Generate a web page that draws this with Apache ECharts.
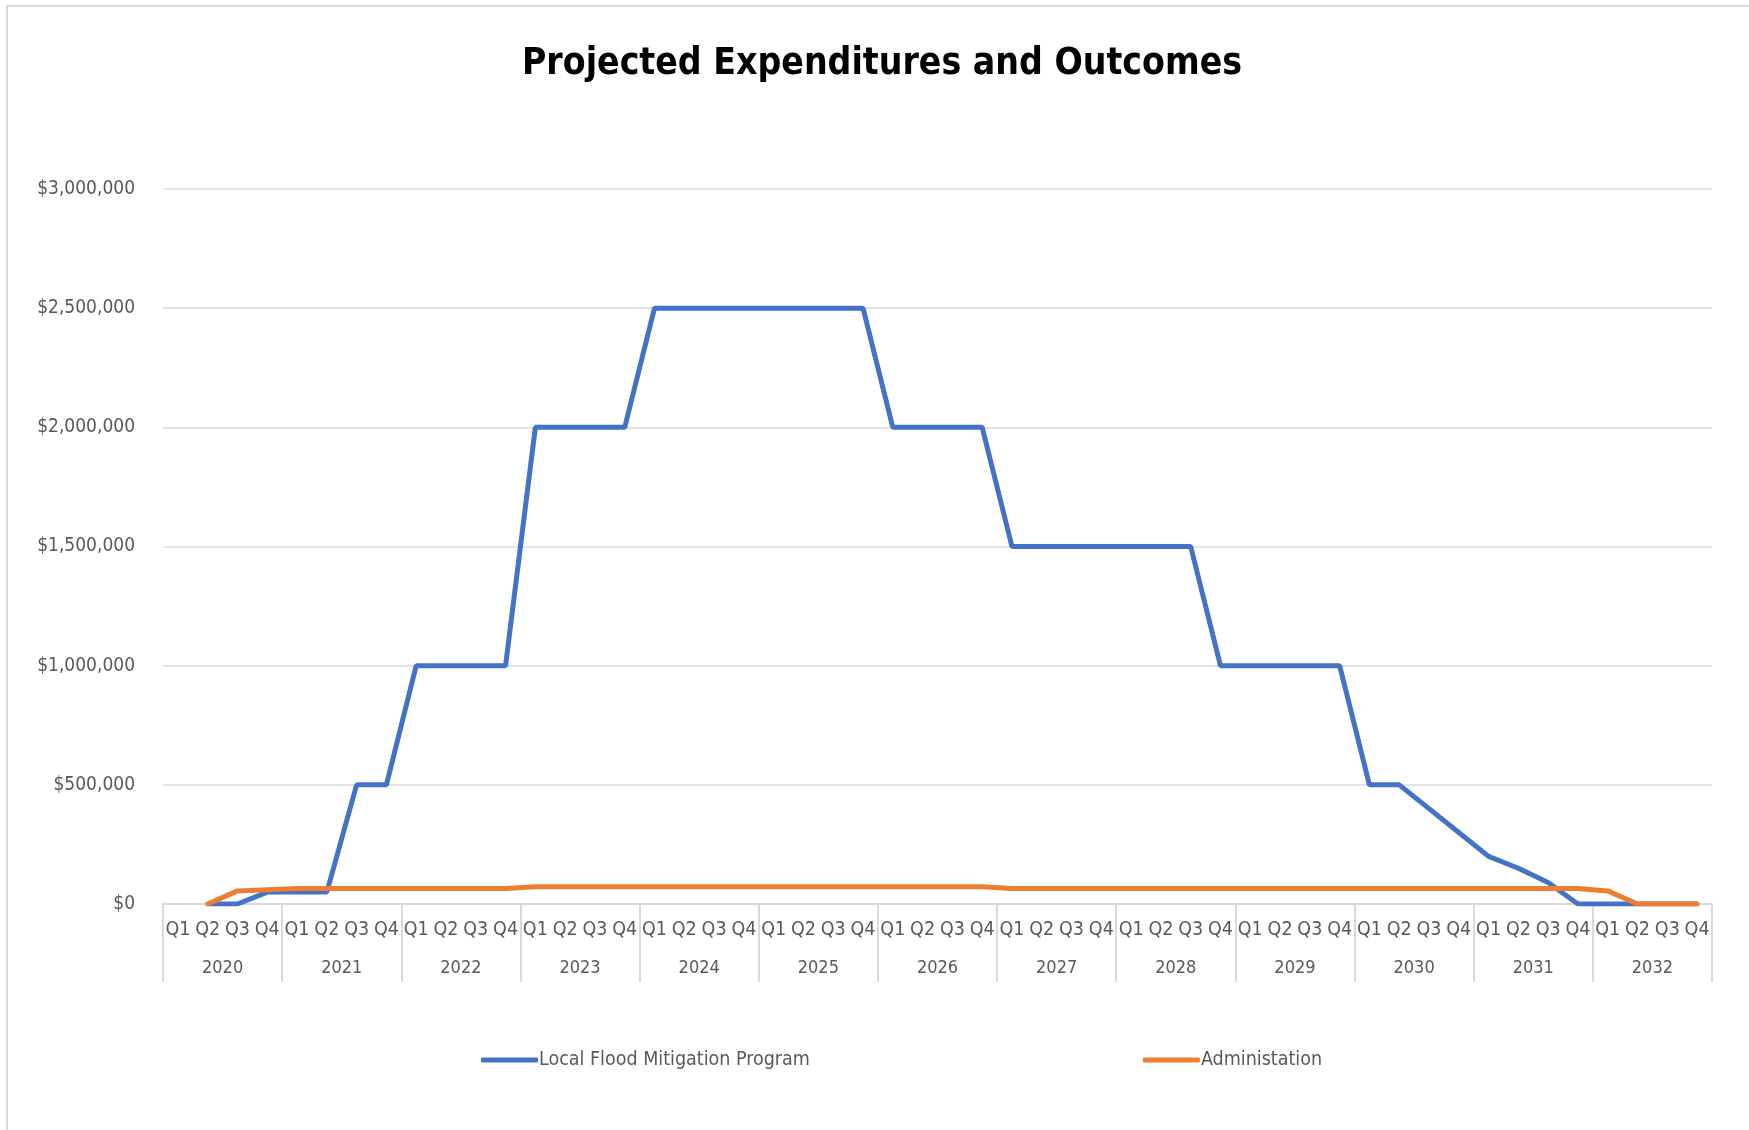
<!DOCTYPE html>
<html>
<head>
<meta charset="utf-8">
<script src="https://cdn.jsdelivr.net/npm/echarts@6/dist/echarts.min.js"></script>
<style>
  html, body { margin: 0; padding: 0; background: #fff; }
  #main { width: 1749px; height: 1130px; }
</style>
</head>
<body>
<div id="main"></div>
<script>
// chart container
var chart = echarts.init(document.getElementById('main'));

var FONT = "'Liberation Sans Narrow', 'Arial Narrow', 'DejaVu Sans Condensed', sans-serif";

// categories
var years = ['2020','2021','2022','2023','2024','2025','2026','2027','2028','2029','2030','2031','2032'];
var quarters = ['Q1','Q2','Q3','Q4'];
var quarterLabels = [];
for (var i = 0; i < years.length; i++) {
    for (var j = 0; j < quarters.length; j++) {
        quarterLabels.push(quarters[j]);
    }
}

// series values, quarter by quarter (2020 Q1 .. 2032 Q4)
var floodProgram = [
    null, 0, 0, 50000,
    50000, 50000, 500000, 500000,
    1000000, 1000000, 1000000, 1000000,
    2000000, 2000000, 2000000, 2000000,
    2500000, 2500000, 2500000, 2500000,
    2500000, 2500000, 2500000, 2500000,
    2000000, 2000000, 2000000, 2000000,
    1500000, 1500000, 1500000, 1500000,
    1500000, 1500000, 1500000, 1000000,
    1000000, 1000000, 1000000, 1000000,
    500000, 500000, 400000, 300000,
    200000, 150000, 90000, 0,
    0, 0, 0, 0
];
var administration = [
    null, 0, 55000, 60000,
    65000, 65000, 65000, 65000,
    65000, 65000, 65000, 65000,
    72000, 72000, 72000, 72000,
    72000, 72000, 72000, 72000,
    72000, 72000, 72000, 72000,
    72000, 72000, 72000, 72000,
    65000, 65000, 65000, 65000,
    65000, 65000, 65000, 65000,
    65000, 65000, 65000, 65000,
    65000, 65000, 65000, 65000,
    65000, 65000, 65000, 65000,
    55000, 0, 0, 0
];
var seriesNames = ['Local Flood Mitigation Program', 'Administation'];

var option = {
    backgroundColor: '#fff',
    animation: false,
    title: {
        text: 'Projected Expenditures and Outcomes',
        left: 877,
        textAlign: 'center',
        top: 41,
        textStyle: {
            color: '#000',
            fontSize: 37,
            fontWeight: 'bold',
            fontFamily: FONT
        }
    },
    graphic: [{
        type: 'rect',
        shape: { x: 7, y: 6, width: 1800, height: 1200 },
        style: { fill: 'none', stroke: '#d9d9d9', lineWidth: 2 },
        silent: true
    }],
    legend: {
        data: seriesNames,
        left: 476,
        top: 1045,
        icon: 'roundRect',
        itemWidth: 57,
        itemHeight: 5,
        itemGap: 333,
        textStyle: {
            color: '#595959',
            fontSize: 19.5,
            fontFamily: FONT,
            padding: [0, 0, 0, -4]
        }
    },
    grid: {
        left: 163,
        right: 37,
        top: 189,
        bottom: 226
    },
    xAxis: [{
        type: 'category',
        data: quarterLabels,
        boundaryGap: true,
        axisLine: { show: true, lineStyle: { color: '#d9d9d9', width: 2 } },
        axisTick: {
            show: true,
            interval: function (idx) { return idx % 4 === 0; },
            length: 78,
            lineStyle: { color: '#d9d9d9', width: 2 }
        },
        axisLabel: {
            interval: 0,
            margin: 16,
            color: '#595959',
            fontSize: 19.5,
            fontFamily: FONT
        }
    }, {
        type: 'category',
        data: years,
        position: 'bottom',
        boundaryGap: true,
        axisLine: { show: false },
        axisTick: { show: false },
        axisLabel: {
            interval: 0,
            margin: 55,
            color: '#595959',
            fontSize: 18,
            fontFamily: FONT
        }
    }],
    yAxis: {
        type: 'value',
        min: 0,
        max: 3000000,
        interval: 500000,
        axisLine: { show: false },
        axisTick: { show: false },
        splitLine: { lineStyle: { color: '#d9d9d9', width: 1.5 } },
        axisLabel: {
            margin: 28,
            color: '#595959',
            fontSize: 19,
            fontFamily: FONT,
            formatter: function (v) {
                return '$' + v.toString().replace(/\B(?=(\d{3})+(?!\d))/g, ',');
            }
        }
    },
    series: [{
        name: seriesNames[0],
        type: 'line',
        data: floodProgram,
        symbol: 'none',
        lineStyle: { color: '#4472C4', width: 5 },
        itemStyle: { color: '#4472C4' }
    }, {
        name: seriesNames[1],
        type: 'line',
        data: administration,
        symbol: 'none',
        lineStyle: { color: '#ED7D31', width: 5, cap: 'round' },
        itemStyle: { color: '#ED7D31' }
    }]
};

chart.setOption(option);
</script>
</body>
</html>
